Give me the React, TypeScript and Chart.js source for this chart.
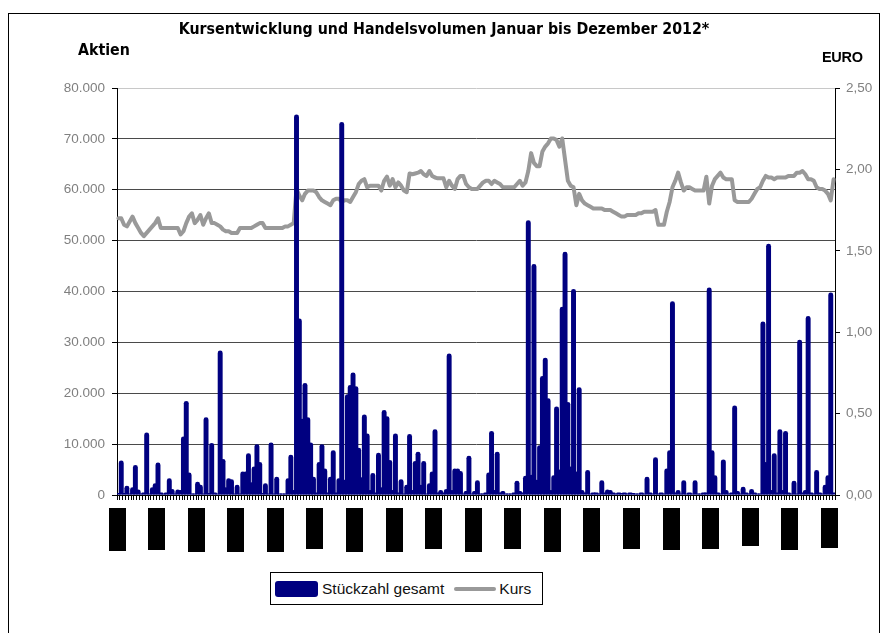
import React, { useEffect, useRef } from 'react';
import { Chart, registerables } from 'chart.js';

Chart.register(...registerables);

// Stückzahl gesamt (daily traded shares), 254 trading days 2012
const volumes: number[] = [
  400, 6800, 400, 1800, 300, 1500, 5900, 1100, 300, 500,
  12300, 300, 1500, 2300, 6400, 500, 300, 500, 3300, 1200,
  300, 1100, 1000, 11500, 18500, 4400, 300, 300, 2600, 2000,
  300, 15300, 400, 10200, 500, 300, 28400, 7100, 1500, 3300,
  3100, 300, 2000, 300, 4600, 4600, 8200, 2500, 5600, 10000,
  6500, 400, 2300, 300, 10300, 300, 3600, 300, 300, 300,
  3300, 7900, 1000, 74800, 34700, 15000, 22000, 15300, 10300, 3600,
  500, 6500, 10000, 5200, 500, 3600, 8800, 500, 3300, 73300,
  3000, 19800, 21600, 24100, 21400, 9300, 3500, 15800, 12100, 1000,
  4300, 500, 8300, 1500, 16700, 15500, 6900, 1000, 12100, 500,
  3100, 300, 2000, 12000, 1000, 6700, 8500, 2000, 6700, 300,
  2300, 4600, 12900, 500, 1000, 500, 1200, 27800, 1000, 5200,
  5200, 4700, 300, 800, 7700, 300, 800, 2900, 300, 300,
  500, 4400, 12600, 1000, 8500, 500, 800, 300, 300, 300,
  500, 2800, 800, 500, 3800, 54000, 4000, 45400, 3000, 9800,
  23400, 27000, 19000, 1000, 3900, 17400, 5000, 37000, 47800, 18300,
  5600, 40500, 4600, 21200, 1000, 500, 4900, 300, 500, 500,
  300, 2900, 500, 1100, 1000, 500, 300, 500, 400, 500,
  300, 500, 400, 300, 300, 500, 300, 3600, 500, 300,
  7400, 300, 500, 300, 5200, 8800, 38100, 500, 1000, 300,
  2900, 300, 500, 300, 2900, 300, 300, 500, 500, 40800,
  8800, 3900, 500, 300, 7000, 1000, 300, 500, 17600, 800,
  300, 1600, 500, 300, 1200, 500, 300, 300, 34100, 6500,
  49400, 1000, 8200, 500, 12900, 1000, 12600, 500, 300, 2800,
  300, 30500, 500, 1000, 35200, 500, 300, 4900, 500, 300,
  2000, 3900, 39800, 500,
];

// Kurs in EURO
const kurs: number[] = [
  1.70, 1.70, 1.66, 1.65, 1.68, 1.71, 1.67, 1.64, 1.61, 1.59,
  1.61, 1.63, 1.65, 1.67, 1.70, 1.64, 1.64, 1.64, 1.64, 1.64,
  1.64, 1.64, 1.60, 1.62, 1.67, 1.71, 1.73, 1.67, 1.69, 1.72,
  1.66, 1.70, 1.73, 1.67, 1.67, 1.66, 1.65, 1.63, 1.62, 1.62,
  1.61, 1.61, 1.61, 1.64, 1.64, 1.64, 1.64, 1.64, 1.65, 1.66,
  1.67, 1.67, 1.64, 1.64, 1.64, 1.64, 1.64, 1.64, 1.64, 1.65,
  1.65, 1.66, 1.67, 1.88, 1.84, 1.81, 1.85, 1.87, 1.87, 1.87,
  1.86, 1.83, 1.81, 1.80, 1.79, 1.78, 1.81, 1.82, 1.82, 1.80,
  1.81, 1.81, 1.80, 1.83, 1.86, 1.91, 1.93, 1.94, 1.89, 1.90,
  1.90, 1.90, 1.90, 1.87, 1.93, 1.955, 1.90, 1.94, 1.89, 1.92,
  1.90, 1.87, 1.86, 1.975, 1.97, 1.975, 1.98, 1.99, 1.97, 1.96,
  1.99, 1.96, 1.95, 1.945, 1.945, 1.945, 1.89, 1.93, 1.90, 1.88,
  1.94, 1.96, 1.96, 1.91, 1.89, 1.88, 1.88, 1.88, 1.90, 1.92,
  1.93, 1.93, 1.91, 1.93, 1.92, 1.91, 1.89, 1.89, 1.89, 1.89,
  1.89, 1.91, 1.93, 1.90, 1.92, 1.99, 2.10, 2.04, 2.02, 2.02,
  2.11, 2.14, 2.16, 2.19, 2.19, 2.18, 2.14, 2.19, 2.06, 1.93,
  1.90, 1.89, 1.78, 1.85, 1.81, 1.79, 1.78, 1.77, 1.76, 1.76,
  1.76, 1.76, 1.75, 1.75, 1.75, 1.74, 1.73, 1.72, 1.71, 1.71,
  1.72, 1.72, 1.72, 1.72, 1.73, 1.73, 1.74, 1.74, 1.74, 1.74,
  1.75, 1.66, 1.66, 1.66, 1.74, 1.80, 1.89, 1.93, 1.98, 1.92,
  1.87, 1.89, 1.89, 1.88, 1.87, 1.87, 1.87, 1.87, 1.955, 1.79,
  1.90, 1.94, 1.96, 1.98, 1.95, 1.94, 1.94, 1.94, 1.81, 1.80,
  1.80, 1.80, 1.80, 1.80, 1.82, 1.85, 1.88, 1.89, 1.93, 1.96,
  1.95, 1.95, 1.94, 1.95, 1.95, 1.95, 1.95, 1.96, 1.96, 1.96,
  1.98, 1.98, 1.99, 1.97, 1.94, 1.94, 1.93, 1.89, 1.88, 1.88,
  1.87, 1.85, 1.81, 1.94,
];

// category labels: trading day number
const days: string[] = volumes.map((_, i) => String(i + 1));

// labelled x ticks (every 14th trading day)
const tickIndices: number[] = [0, 14, 28, 42, 56, 70, 84, 98, 112, 126, 140, 154, 168, 182, 196, 210, 224, 238, 252];
const tickDates: string[] = [
  '02.01.2012', '20.01.2012', '09.02.2012', '29.02.2012', '20.03.2012', '11.04.2012',
  '02.05.2012', '22.05.2012', '11.06.2012', '29.06.2012', '19.07.2012', '08.08.2012',
  '28.08.2012', '17.09.2012', '05.10.2012', '25.10.2012', '14.11.2012', '04.12.2012', '27.12.2012',
];

const leftTicks = { min: 0, max: 80000, step: 10000 };
const rightTicks = { min: 0, max: 2.5, step: 0.5 };

const tickBoxes = {
  id: 'tickBoxes',
  afterDraw(chart: any) {
    const { ctx, scales, chartArea } = chart;
    const x = scales.x;
    const step = (x.right - x.left) / volumes.length;
    ctx.save();
    ctx.font = '8.4px Inter';
    tickIndices.forEach((idx, k) => {
      const label = tickDates[k];
      const cx = x.getPixelForValue(idx) - step / 2;
      const h = Math.round(ctx.measureText(label).width);
      const top = chartArea.bottom + 13;
      ctx.fillStyle = '#000';
      ctx.fillRect(Math.round(cx - 8.5), top, 17, h);
      ctx.save();
      ctx.translate(cx + 3, top + h);
      ctx.rotate(-Math.PI / 2);
      ctx.fillText(label, 0, 0);
      ctx.restore();
    });
    ctx.restore();
  },
};

export default function App() {
  const canvasRef = useRef<HTMLCanvasElement | null>(null);

  useEffect(() => {
    const canvas = canvasRef.current;
    if (!canvas) return;
    const tickFont = { family: '"Liberation Sans", Arial, sans-serif', size: 13.5 };
    const chart = new Chart(canvas, {
      type: 'bar',
      data: {
        labels: days,
        datasets: [
          {
            type: 'bar',
            label: 'Stückzahl gesamt',
            data: volumes,
            yAxisID: 'y',
            backgroundColor: '#000080',
            borderWidth: 0,
            borderRadius: { topLeft: 2.5, topRight: 2.5, bottomLeft: 0, bottomRight: 0 },
            borderSkipped: 'bottom',
            barPercentage: 1.75,
            categoryPercentage: 1,
            order: 1,
          } as any,
          {
            type: 'line',
            label: 'Kurs',
            data: kurs,
            yAxisID: 'y1',
            borderColor: '#999999',
            borderWidth: 4,
            pointRadius: 0,
            tension: 0,
            borderJoinStyle: 'round',
            borderCapStyle: 'round',
            order: 2,
          } as any,
        ],
      },
      options: {
        responsive: false,
        animation: false,
        devicePixelRatio: 1,
        layout: { padding: { top: 75, left: 0, right: 0, bottom: 0 } },
        plugins: {
          legend: { display: false },
          tooltip: { enabled: false },
          title: { display: false },
        },
        scales: {
          x: {
            type: 'category',
            offset: true,
            grid: {
              display: true,
              drawOnChartArea: false,
              drawTicks: true,
              tickLength: 5,
              tickColor: '#000',
              offset: true,
            },
            border: { display: true, color: '#000', width: 1 },
            ticks: { display: false, autoSkip: false },
            afterFit: (s: any) => { s.height = 138; },
          },
          y: {
            type: 'linear',
            position: 'left',
            min: leftTicks.min,
            max: leftTicks.max,
            ticks: {
              stepSize: leftTicks.step,
              color: '#808080',
              font: tickFont,
              padding: 7,
              callback: (v: any) => Number(v).toLocaleString('de-DE'),
            },
            grid: {
              color: (c: any) => (c.tick && c.tick.value === leftTicks.max ? '#c8c8c8' : '#4a4a4a'),
              tickColor: '#000',
              tickLength: 5,
              lineWidth: 1,
            },
            border: { display: true, color: '#000', width: 1 },
            afterFit: (s: any) => { s.width = 109; },
          },
          y1: {
            type: 'linear',
            position: 'right',
            min: rightTicks.min,
            max: rightTicks.max,
            ticks: {
              stepSize: rightTicks.step,
              color: '#808080',
              font: tickFont,
              padding: 6,
              callback: (v: any) => Number(v).toFixed(2).replace('.', ','),
            },
            grid: {
              drawOnChartArea: false,
              tickColor: '#000',
              tickLength: 5,
            },
            border: { display: true, color: '#000', width: 1 },
            afterFit: (s: any) => { s.width = 45; },
          },
        },
      } as any,
      plugins: [tickBoxes],
    });
    return () => chart.destroy();
  }, []);

  const narrowBold = '"DejaVu Sans Condensed", "DejaVu Sans", sans-serif';

  return (
    <div style={{ position: 'fixed', left: 0, top: 0, width: 887, height: 633, overflow: 'hidden', background: '#fff' }}>
      <div style={{ position: 'absolute', left: 8, top: 13, width: 872, height: 660, border: '1px solid #000', boxSizing: 'border-box' }} />
      <canvas ref={canvasRef} width={872} height={620} style={{ position: 'absolute', left: 8, top: 13, width: 872, height: 620 }} />
      <div style={{ position: 'absolute', left: 8, top: 20, width: 872, textAlign: 'center', fontFamily: narrowBold, fontStretch: 'condensed', fontWeight: 'bold', fontSize: 15.8, lineHeight: '18px', color: '#000' }}>
        Kursentwicklung und Handelsvolumen Januar bis Dezember 2012*
      </div>
      <div style={{ position: 'absolute', left: 78, top: 41, fontFamily: narrowBold, fontStretch: 'condensed', fontWeight: 'bold', fontSize: 15.8, lineHeight: '18px', color: '#000' }}>
        Aktien
      </div>
      <div style={{ position: 'absolute', left: 822, top: 48, fontFamily: '"Liberation Sans", Arial, sans-serif', fontWeight: 'bold', fontSize: 14.5, letterSpacing: -0.3, lineHeight: '18px', color: '#000' }}>
        EURO
      </div>
      <div style={{ position: 'absolute', left: 270, top: 572, width: 273, height: 33, border: '1px solid #000', boxSizing: 'border-box', display: 'flex', alignItems: 'center', fontFamily: '"Liberation Sans", Arial, sans-serif', fontSize: 15.5, color: '#111', background: '#fff' }}>
        <span style={{ display: 'inline-block', width: 43, height: 16, background: '#000080', borderRadius: 3, marginLeft: 4, marginRight: 4 }} />
        <span>Stückzahl gesamt</span>
        <span style={{ display: 'inline-block', width: 42, height: 4, background: '#999999', borderRadius: 2, marginLeft: 10, marginRight: 3 }} />
        <span>Kurs</span>
      </div>
    </div>
  );
}
